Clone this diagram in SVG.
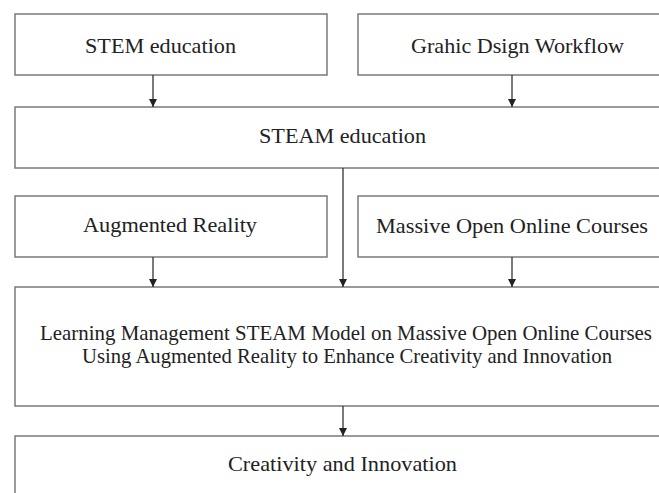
<svg xmlns="http://www.w3.org/2000/svg" width="659" height="493" viewBox="0 0 659 493">
<style>
.box{fill:#fff;stroke:#7a7a7a;stroke-width:1.5}
.t{font-family:"Liberation Serif","Times New Roman",serif;font-size:22px;fill:#222;text-anchor:middle}
.s{font-size:21px}
.c{stroke:#333;stroke-width:1.3;fill:none;marker-end:url(#ah)}
</style>
<defs>
<marker id="ah" viewBox="0 0 10 10" refX="10" refY="5" markerUnits="userSpaceOnUse" markerWidth="8" markerHeight="8" orient="auto">
<path d="M0,0 L10,5 L0,10 z" fill="#222"/>
</marker>
</defs>
<rect width="659" height="493" fill="#fff"/>
<g id="n1"><rect class="box" x="15" y="14" width="312" height="61"/><text class="t" x="160.5" y="53" textLength="151" lengthAdjust="spacingAndGlyphs">STEM education</text></g>
<g id="n2"><rect class="box" x="358" y="14" width="320" height="61"/><text class="t" x="517.5" y="53" textLength="213" lengthAdjust="spacingAndGlyphs">Grahic Dsign Workflow</text></g>
<g id="n3"><rect class="box" x="15" y="107" width="663" height="61"/><text class="t" x="342.5" y="143" textLength="167" lengthAdjust="spacingAndGlyphs">STEAM education</text></g>
<g id="n4"><rect class="box" x="15" y="196" width="312" height="61"/><text class="t" x="170" y="232" textLength="174" lengthAdjust="spacingAndGlyphs">Augmented Reality</text></g>
<g id="n5"><rect class="box" x="358" y="196" width="320" height="61"/><text class="t" x="512" y="233" textLength="272" lengthAdjust="spacingAndGlyphs">Massive Open Online Courses</text></g>
<g id="n6"><rect class="box" x="15" y="287" width="663" height="119"/>
<text class="t s" x="346" y="340" textLength="612" lengthAdjust="spacingAndGlyphs">Learning Management STEAM Model on Massive Open Online Courses</text>
<text class="t s" x="347" y="363" textLength="530" lengthAdjust="spacingAndGlyphs">Using Augmented Reality to Enhance Creativity and Innovation</text></g>
<g id="n7"><rect class="box" x="15" y="436" width="663" height="80"/><text class="t" x="342.5" y="471" textLength="229" lengthAdjust="spacingAndGlyphs">Creativity and Innovation</text></g>
<g id="connectors">
<path class="c" d="M153,75 V107"/>
<path class="c" d="M512,75 V107"/>
<path class="c" d="M343,168 V287"/>
<path class="c" d="M153,257 V287"/>
<path class="c" d="M512,257 V287"/>
<path class="c" d="M343,406 V436"/>
</g>
</svg>
